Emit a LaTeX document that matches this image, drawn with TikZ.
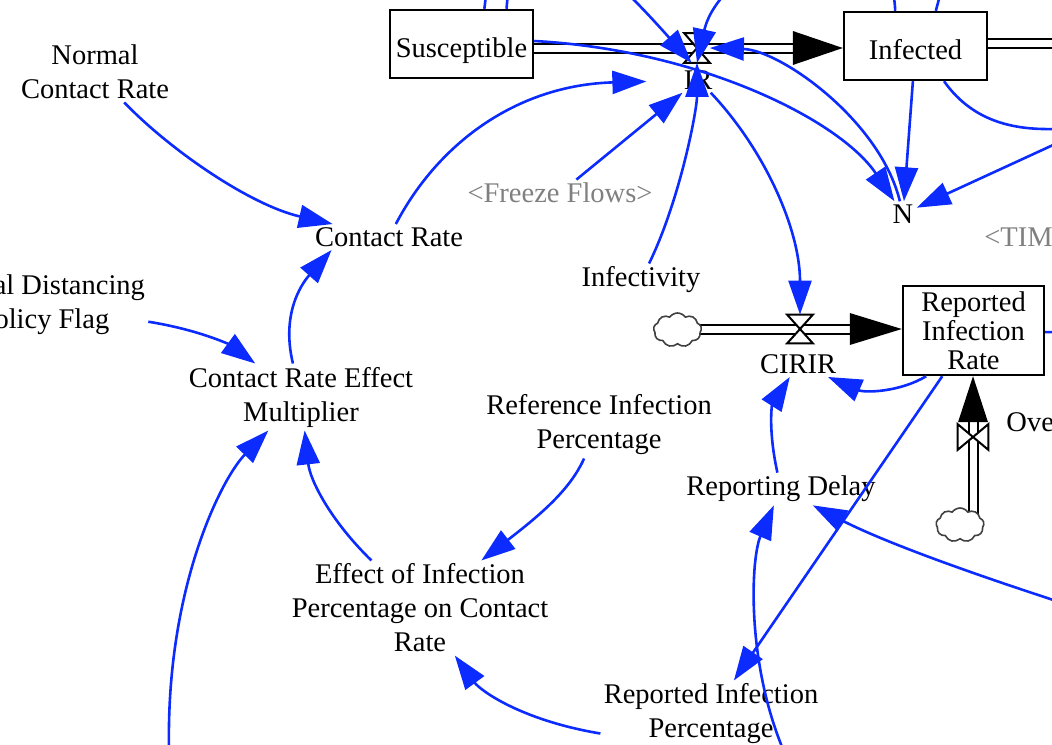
\documentclass[tikz,border=0pt]{standalone}
\usepackage{fontspec}
\setmainfont{Liberation Serif}
\usetikzlibrary{arrows.meta,shapes.symbols,calc}
\definecolor{linkblue}{RGB}{12,44,255}
\definecolor{shadowgray}{RGB}{128,128,128}

\begin{document}
\begin{tikzpicture}[x=0.5pt,y=-0.5pt,
  var/.style={font=\fontsize{14.25}{17}\selectfont, align=center, inner sep=1.5pt},
  shadowvar/.style={var, text=shadowgray},
  stock/.style={draw, line width=1.2pt, fill=white, align=center,
    font=\fontsize{14.25}{14.5}\selectfont, inner sep=0pt},
  stockline/.style={stock, text height=13.5pt, text depth=0pt},
  link/.style={draw=linkblue, line width=1.3pt, -{Triangle[length=17pt,width=11.5pt]}},
  plainlink/.style={draw=linkblue, line width=1.3pt},
  pipe/.style={draw=black, line width=1pt, double=white, double distance=3.5pt},
  valvebox/.style={inner sep=0pt, minimum width=12.5pt, minimum height=14.5pt},
  valveshape/.style={fill=white, draw=black, line width=1pt},
  source/.style={cloud, cloud puffs=9, cloud puff arc=110, aspect=1.4, draw=black!75,
    line width=0.8pt, fill=white, minimum width=24pt, minimum height=17pt, inner sep=0pt}
]
\clip (0,0) rectangle (1052,744);

% ---------- stocks ----------
\node[stockline, minimum width=71.5pt, minimum height=34pt] (sus) at (461.5,44) {Susceptible};
\node[stockline, minimum width=71.5pt, minimum height=34pt] (inf) at (915.5,46) {Infected};
\node[stock, minimum width=70.5pt, minimum height=44.5pt] (rir) at (973.5,330.5) {Reported\\Infection\\Rate};

% ---------- valves and clouds ----------
\node[valvebox] (irv) at (697,48) {};
\node[valvebox, minimum height=14pt] (cirv) at (800,329) {};
\node[valvebox, minimum width=15pt, minimum height=12.5pt] (ovv) at (973,437) {};
\coordinate (eastP) at (1080,43);

% ---------- flow pipes ----------
\draw[pipe] (sus.east |- irv.center) -- ($(inf.west |- irv.center)+(-46,0)$);
\fill (inf.west |- irv.center) -- ++(-50,-17) -- ++(0,34) -- cycle;
\draw[pipe] ($(inf.east)+(0,-3)$) -- (eastP);

\draw[pipe] (677,329) -- ($(rir.west |- cirv.center)+(-48,0)$);
\fill (rir.west |- cirv.center) -- ++(-52,-16) -- ++(0,32) -- cycle;
\node[source] (cloudL) at (677.5,330) {};

\draw[pipe] (ovv.center |- 0,520) -- ($(rir.south -| ovv.center)+(0,43)$);
\fill (rir.south -| ovv.center) -- ++(-15,46) -- ++(30,0) -- cycle;
\node[source] (cloudB) at (960,525) {};

\draw[valveshape] (irv.north west) -- (irv.north east) -- (irv.south west) -- (irv.south east) -- cycle;
\draw[valveshape] (cirv.north west) -- (cirv.north east) -- (cirv.south west) -- (cirv.south east) -- cycle;
\draw[valveshape] (ovv.north west) -- (ovv.south west) -- (ovv.north east) -- (ovv.south east) -- cycle;

% ---------- variables ----------
\node[var] (ncr) at (95,72) {Normal\\Contact Rate};
\node[var] (sdpf) at (44,305) {Social Distancing\\Policy Flag};
\node[var] (cr) at (389,237) {Contact Rate};
\node[var] (crem) at (301,397) {Contact Rate Effect\\Multiplier};
\node[shadowvar] (ff) at (560,193) {<Freeze Flows>};
\node[var] (infy) at (641,280) {Infectivity};
\node[var] (N) at (903,214) {N};
\node[shadowvar, anchor=west] (tim) at (981,237) {<TIME STEP>};
\node[var] (rip) at (599,425) {Reference Infection\\Percentage};
\node[var] (rd) at (781,489) {Reporting Delay};
\node[var] (eip) at (420,608) {Effect of Infection\\Percentage on Contact\\Rate};
\node[var] (ripc) at (711,714) {Reported Infection\\Percentage};
\node[var] (irl) at (698,80) {IR};
\node[var] (cirl) at (798,364) {CIRIR};
\node[var, anchor=west] (ovl) at (1003,422) {Ove};

% ---------- off-page ends ----------
\coordinate (eastN) at (1090,128);
\coordinate (eastR) at (1090,333);
\coordinate (eastRD) at (1075,607);
\coordinate (southRD) at (795,775);
\coordinate (southM) at (170,775);
\coordinate (northS) at (495,-80);
\coordinate (northI) at (960,-80);

% ---------- links ----------
\draw[link] (ncr) .. controls (170,150) and (250,205) .. (cr);
\draw[link, shorten >=17pt] (cr) .. controls (440,140) and (520,85) .. (irl);
\draw[link] (ff) -- (irl);
\draw[link] (infy) .. controls (680,200) and (697,110) .. (irv.south);
\draw[link] (sus.38) .. controls (515,-120) and (600,-40) .. (irv.250);
\draw[plainlink] (sus.57) -- (northS);
\draw[link] (inf.120) .. controls (890,-120) and (720,-40) .. (irv.south);
\draw[plainlink] (inf.60) -- (northI);
\draw[link] (N) .. controls (880,120) and (780,50) .. (irv.east);
\draw[link] ([yshift=1.5pt]sus.east) .. controls (700,50) and (840,120) .. (N);
\draw[link] (inf) -- (N);
\draw[link] (inf.-51) .. controls (975,125) and (1020,130) .. (eastN);
\draw[link] (eastN) -- (N);
\draw[link] (irl.-45) .. controls (765,150) and (800,230) .. (cirv.north);
\draw[link] (rd) .. controls (768,430) and (772,405) .. (cirl);
\draw[link] (rir.224) .. controls (900,392) and (865,393) .. (cirl);
\draw[plainlink] (rir) -- (eastR);
\draw[link] (rir) -- (ripc);
\draw[link] (southRD) .. controls (745,680) and (750,560) .. (rd);
\draw[link] (eastRD) .. controls (960,570) and (880,540) .. (rd);
\draw[link] (rip) .. controls (570,490) and (540,515) .. (eip);
\draw[link] (ripc.190) .. controls (520,720) and (480,690) .. (eip);
\draw[link] (eip) .. controls (330,520) and (310,480) .. (crem);
\draw[link] (southM) .. controls (160,600) and (220,480) .. (crem);
\draw[link] (sdpf) .. controls (200,330) and (230,345) .. (crem);
\draw[link] (crem) .. controls (280,310) and (305,280) .. ([xshift=10pt]cr.south west);
\end{tikzpicture}
\end{document}
